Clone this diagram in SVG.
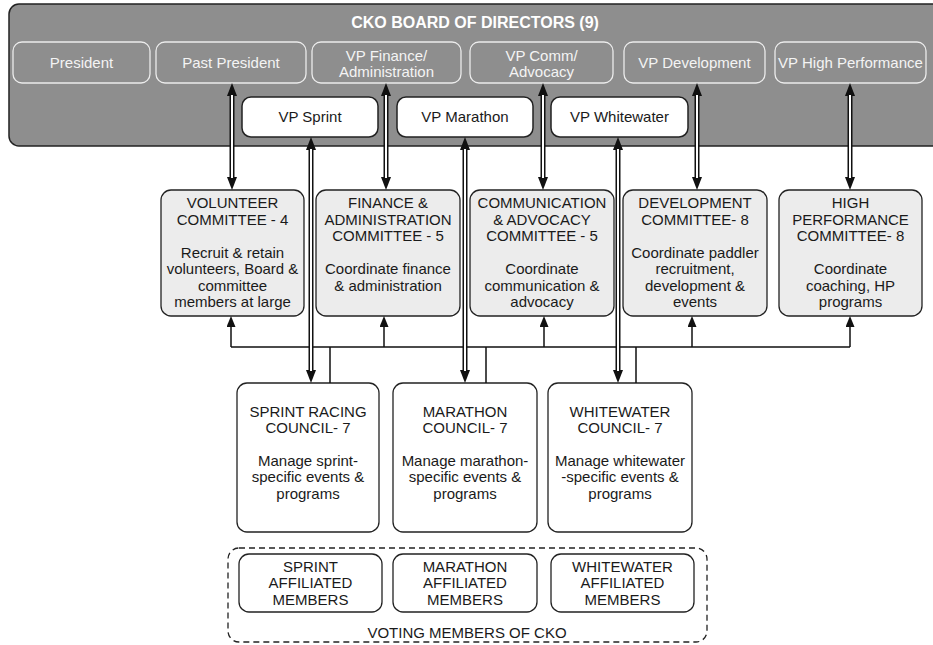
<svg xmlns="http://www.w3.org/2000/svg" width="933" height="645" viewBox="0 0 933 645">
<defs>
<style>
text{font-family:"Liberation Sans",Arial,sans-serif;font-size:15px;text-anchor:middle;fill:#1a1a1a}
.board{fill:#8e8e8e;stroke:#222;stroke-width:1.5}
.dir{fill:none;stroke:#ececec;stroke-width:1.3}
.dirt{fill:#f4f4f4}
.vp{fill:#fff;stroke:#222;stroke-width:1.5}
.com{fill:#ececec;stroke:#222;stroke-width:1.3}
.box{fill:#fff;stroke:#222;stroke-width:1.3}
.dash{fill:none;stroke:#222;stroke-width:1.3;stroke-dasharray:6,4}
.dbl{stroke:#111;stroke-width:5;fill:none}
.dbli{stroke:#fff;stroke-width:2;fill:none}
.sgl{stroke:#111;stroke-width:1.5;fill:none}
</style>
<marker id="ah" markerUnits="userSpaceOnUse" markerWidth="14" markerHeight="12" refX="0" refY="5" orient="auto-start-reverse" viewBox="0 0 14 10"><path d="M0,0 L13,5 L0,10 z" fill="#111"/></marker>
<marker id="as" markerUnits="userSpaceOnUse" markerWidth="11" markerHeight="9" refX="0" refY="4.5" orient="auto" viewBox="0 0 11 9"><path d="M0,0 L11,4.5 L0,9 z" fill="#111"/></marker>
</defs>

<g id="board">
<rect class="board" x="9" y="4" width="935" height="142" rx="10"/>
<text x="475" y="28" style="font-weight:bold;font-size:16px;fill:#fff">CKO BOARD OF DIRECTORS (9)</text>
</g>
<g id="president"><rect class="dir" x="13" y="42" width="137" height="41" rx="9"/><text class="dirt" x="81.5" y="68">President</text></g>
<g id="past-president"><rect class="dir" x="156" y="42" width="150" height="41" rx="9"/><text class="dirt" x="231" y="68">Past President</text></g>
<g id="vp-finance"><rect class="dir" x="312" y="42" width="149" height="41" rx="9"/><text class="dirt" x="386.5" y="60.5">VP Finance/</text><text class="dirt" x="386.5" y="77">Administration</text></g>
<g id="vp-comm"><rect class="dir" x="470" y="42" width="143" height="41" rx="9"/><text class="dirt" x="541.5" y="60.5">VP Comm/</text><text class="dirt" x="541.5" y="77">Advocacy</text></g>
<g id="vp-development"><rect class="dir" x="624" y="42" width="141" height="41" rx="9"/><text class="dirt" x="694.5" y="68">VP Development</text></g>
<g id="vp-hp"><rect class="dir" x="775" y="42" width="151" height="41" rx="9"/><text class="dirt" x="850.5" y="68">VP High Performance</text></g>

<g id="vp-sprint"><rect class="vp" x="242" y="97" width="136" height="40" rx="9"/><text x="310" y="122">VP Sprint</text></g>
<g id="vp-marathon"><rect class="vp" x="397" y="97" width="136" height="40" rx="9"/><text x="465" y="122">VP Marathon</text></g>
<g id="vp-whitewater"><rect class="vp" x="551" y="97" width="137" height="40" rx="9"/><text x="619.5" y="122">VP Whitewater</text></g>

<g id="volunteer-committee"><rect class="com" x="161" y="190" width="143" height="126" rx="10"/>
<text x="232.5" y="208">VOLUNTEER</text><text x="232.5" y="225">COMMITTEE - 4</text>
<text x="232.5" y="258">Recruit &amp; retain</text><text x="232.5" y="274">volunteers, Board &amp;</text><text x="232.5" y="291">committee</text><text x="232.5" y="307">members at large</text></g>
<g id="finance-committee"><rect class="com" x="316" y="190" width="144" height="126" rx="10"/>
<text x="388" y="208">FINANCE &amp;</text><text x="388" y="225">ADMINISTRATION</text><text x="388" y="241">COMMITTEE - 5</text>
<text x="388" y="274">Coordinate finance</text><text x="388" y="291">&amp; administration</text></g>
<g id="communication-committee"><rect class="com" x="470" y="190" width="144" height="126" rx="10"/>
<text x="542" y="208">COMMUNICATION</text><text x="542" y="225">&amp; ADVOCACY</text><text x="542" y="241">COMMITTEE - 5</text>
<text x="542" y="274">Coordinate</text><text x="542" y="291">communication &amp;</text><text x="542" y="307">advocacy</text></g>
<g id="development-committee"><rect class="com" x="623" y="190" width="144" height="126" rx="10"/>
<text x="695" y="208">DEVELOPMENT</text><text x="695" y="225">COMMITTEE- 8</text>
<text x="695" y="258">Coordinate paddler</text><text x="695" y="274">recruitment,</text><text x="695" y="291">development &amp;</text><text x="695" y="307">events</text></g>
<g id="hp-committee"><rect class="com" x="779" y="190" width="143" height="126" rx="10"/>
<text x="850.5" y="208">HIGH</text><text x="850.5" y="225">PERFORMANCE</text><text x="850.5" y="241">COMMITTEE- 8</text>
<text x="850.5" y="274">Coordinate</text><text x="850.5" y="291">coaching, HP</text><text x="850.5" y="307">programs</text></g>

<g id="sprint-council"><rect class="box" x="237" y="383" width="142" height="149" rx="10"/>
<text x="308" y="417">SPRINT RACING</text><text x="308" y="433">COUNCIL- 7</text>
<text x="308" y="466">Manage sprint-</text><text x="308" y="482">specific events &amp;</text><text x="308" y="499">programs</text></g>
<g id="marathon-council"><rect class="box" x="393" y="383" width="144" height="149" rx="10"/>
<text x="465" y="417">MARATHON</text><text x="465" y="433">COUNCIL- 7</text>
<text x="465" y="466">Manage marathon-</text><text x="465" y="482">specific events &amp;</text><text x="465" y="499">programs</text></g>
<g id="whitewater-council"><rect class="box" x="548" y="383" width="144" height="149" rx="10"/>
<text x="620" y="417">WHITEWATER</text><text x="620" y="433">COUNCIL- 7</text>
<text x="620" y="466">Manage whitewater</text><text x="620" y="482">-specific events &amp;</text><text x="620" y="499">programs</text></g>

<g id="voting-members"><rect class="dash" x="228" y="548" width="479" height="94" rx="11"/>
<text x="467" y="638">VOTING MEMBERS OF CKO</text></g>
<g id="sprint-members"><rect class="box" x="239" y="554" width="143" height="58" rx="10"/>
<text x="310.5" y="572">SPRINT</text><text x="310.5" y="588">AFFILIATED</text><text x="310.5" y="605">MEMBERS</text></g>
<g id="marathon-members"><rect class="box" x="393" y="554" width="144" height="58" rx="10"/>
<text x="465" y="572">MARATHON</text><text x="465" y="588">AFFILIATED</text><text x="465" y="605">MEMBERS</text></g>
<g id="whitewater-members"><rect class="box" x="551" y="554" width="143" height="58" rx="10"/>
<text x="622.5" y="572">WHITEWATER</text><text x="622.5" y="588">AFFILIATED</text><text x="622.5" y="605">MEMBERS</text></g>

<g id="connectors">
<path class="sgl" d="M231,347 H850 M330,347 V383 M486,347 V383 M636,347 V383"/>
<path class="sgl" marker-end="url(#as)" d="M231,347 V327"/>
<path class="sgl" marker-end="url(#as)" d="M384,347 V327"/>
<path class="sgl" marker-end="url(#as)" d="M544,347 V327"/>
<path class="sgl" marker-end="url(#as)" d="M692,347 V327"/>
<path class="sgl" marker-end="url(#as)" d="M850,347 V327"/>

<path class="dbl" marker-start="url(#ah)" marker-end="url(#ah)" d="M232,96 V177"/>
<path class="dbl" marker-start="url(#ah)" marker-end="url(#ah)" d="M386,96 V177"/>
<path class="dbl" marker-start="url(#ah)" marker-end="url(#ah)" d="M543,96 V177"/>
<path class="dbl" marker-start="url(#ah)" marker-end="url(#ah)" d="M697,96 V177"/>
<path class="dbl" marker-start="url(#ah)" marker-end="url(#ah)" d="M850,96 V177"/>
<path class="dbl" marker-start="url(#ah)" marker-end="url(#ah)" d="M311,150 V370"/>
<path class="dbl" marker-start="url(#ah)" marker-end="url(#ah)" d="M465,150 V370"/>
<path class="dbl" marker-start="url(#ah)" marker-end="url(#ah)" d="M618,150 V370"/>
<path class="dbli" d="M232,95 V178 M386,95 V178 M543,95 V178 M697,95 V178 M850,95 V178 M311,149 V371 M465,149 V371 M618,149 V371"/>
</g>
</svg>
